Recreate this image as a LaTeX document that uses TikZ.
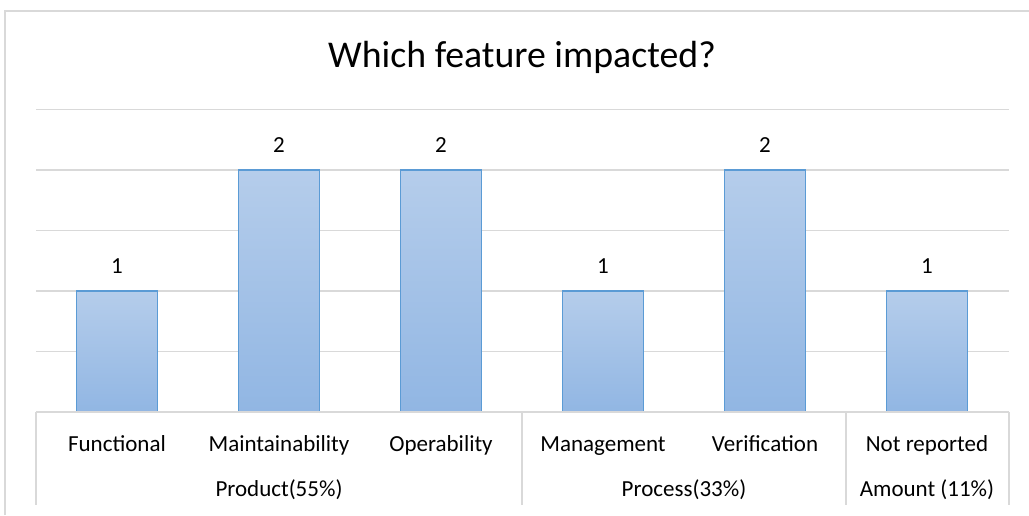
\documentclass[tikz,border=0pt]{standalone}
\usepackage{fontspec}
\setmainfont{Carlito}
\usepackage{tikz}
\usetikzlibrary{calc,shapes}
\definecolor{barline}{RGB}{91,155,213}
\definecolor{bartop}{RGB}{181,205,235}
\definecolor{barbot}{RGB}{145,182,227}
\definecolor{gridgray}{RGB}{217,217,217}
\tikzset{
	bar/.style={draw=barline,line width=1.4pt,top color=bartop,bottom color=barbot},
	gridline/.style={gridgray,line width=1.6pt},
	lbl/.style={font=\fontsize{23}{26}\selectfont,inner sep=0pt,anchor=base}
}

\begin{document}
\begin{tikzpicture}[x=1pt,y=-1pt]
			\useasboundingbox (0,0) rectangle (1029,515);
			% frame and grid
			\draw [gridline] (5,515) -- (5,11) -- (1029,11);
			\draw [gridline] (36,109.5) -- (1009,109.5);
			\draw [gridline] (36,170) -- (1009,170);
			\draw [gridline] (36,230.5) -- (1009,230.5);
			\draw [gridline] (36,291) -- (1009,291);
			\draw [gridline] (36,351.5) -- (1009,351.5);
			\node [font=\fontsize{37.8}{42}\selectfont,inner sep=0pt,anchor=base] (title) at (522,67) {Which feature impacted?};
			% bars
			\draw [bar] (76.5,412) rectangle (157.5,291);
			\draw [bar] (238.5,412) rectangle (319.5,170);
			\draw [bar] (400.5,412) rectangle (481.5,170);
			\draw [bar] (562.5,412) rectangle (643.5,291);
			\draw [bar] (724.5,412) rectangle (805.5,170);
			\draw [bar] (886.5,412) rectangle (967.5,291);
			\node [lbl] (v1) at (117,273) {1};
			\node [lbl] (v2) at (279,152) {2};
			\node [lbl] (v3) at (441,152) {2};
			\node [lbl] (v4) at (603,273) {1};
			\node [lbl] (v5) at (765,152) {2};
			\node [lbl] (v6) at (927,273) {1};
			% category axis
			\draw [gridline] (36,412) -- (1009,412);
			\draw [gridline] (36,412) -- (36,505);
			\draw [gridline] (522,412) -- (522,505);
			\draw [gridline] (846,412) -- (846,505);
			\draw [gridline] (1009,412) -- (1009,505);
			\node [lbl] (functional) at (117,451) {Functional};
			\node [lbl] (maintain) at (279,451) {Maintainability};
			\node [lbl] (operab) at (441,451) {Operability};
			\node [lbl] (manage) at (603,451) {Management};
			\node [lbl] (verif) at (765,451) {Verification};
			\node [lbl] (notrep) at (927,451) {Not reported};
			\node [lbl] (product) at (279,496) {Product(55\%)};
			\node [lbl] (process) at (684,496) {Process(33\%)};
			\node [lbl] (amount) at (927,496) {Amount (11\%)};
\end{tikzpicture}
\end{document}
